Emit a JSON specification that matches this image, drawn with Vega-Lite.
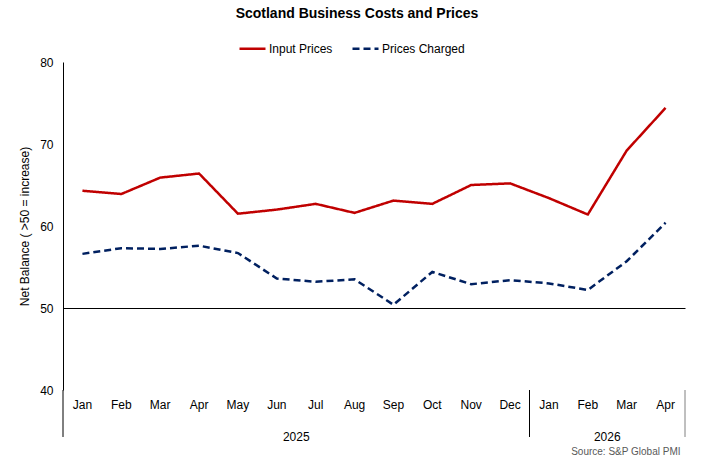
{
  "$schema": "https://vega.github.io/schema/vega-lite/v6.json",
  "width": 622,
  "height": 328,
  "autosize": {"type": "none"},
  "padding": {"left": 63, "top": 62, "right": 28, "bottom": 78},
  "background": "white",
  "config": {
    "font": "Liberation Sans",
    "view": {"stroke": null}
  },
  "title": {
    "text": "Scotland Business Costs and Prices",
    "fontSize": 14,
    "fontWeight": "bold",
    "color": "#000000",
    "anchor": "middle",
    "dx": -17,
    "offset": 13
  },
  "datasets": {
    "series": [
      {"period": "2025-01", "series": "Input Prices", "value": 64.3},
      {"period": "2025-02", "series": "Input Prices", "value": 63.9},
      {"period": "2025-03", "series": "Input Prices", "value": 65.9},
      {"period": "2025-04", "series": "Input Prices", "value": 66.4},
      {"period": "2025-05", "series": "Input Prices", "value": 61.5},
      {"period": "2025-06", "series": "Input Prices", "value": 62.0},
      {"period": "2025-07", "series": "Input Prices", "value": 62.7},
      {"period": "2025-08", "series": "Input Prices", "value": 61.6},
      {"period": "2025-09", "series": "Input Prices", "value": 63.1},
      {"period": "2025-10", "series": "Input Prices", "value": 62.7},
      {"period": "2025-11", "series": "Input Prices", "value": 65.0},
      {"period": "2025-12", "series": "Input Prices", "value": 65.2},
      {"period": "2026-01", "series": "Input Prices", "value": 63.4},
      {"period": "2026-02", "series": "Input Prices", "value": 61.4},
      {"period": "2026-03", "series": "Input Prices", "value": 69.2},
      {"period": "2026-04", "series": "Input Prices", "value": 74.4},
      {"period": "2025-01", "series": "Prices Charged", "value": 56.6},
      {"period": "2025-02", "series": "Prices Charged", "value": 57.3},
      {"period": "2025-03", "series": "Prices Charged", "value": 57.2},
      {"period": "2025-04", "series": "Prices Charged", "value": 57.6},
      {"period": "2025-05", "series": "Prices Charged", "value": 56.7},
      {"period": "2025-06", "series": "Prices Charged", "value": 53.6},
      {"period": "2025-07", "series": "Prices Charged", "value": 53.2},
      {"period": "2025-08", "series": "Prices Charged", "value": 53.5},
      {"period": "2025-09", "series": "Prices Charged", "value": 50.4},
      {"period": "2025-10", "series": "Prices Charged", "value": 54.4},
      {"period": "2025-11", "series": "Prices Charged", "value": 52.9},
      {"period": "2025-12", "series": "Prices Charged", "value": 53.4},
      {"period": "2026-01", "series": "Prices Charged", "value": 53.0},
      {"period": "2026-02", "series": "Prices Charged", "value": 52.2},
      {"period": "2026-03", "series": "Prices Charged", "value": 55.7},
      {"period": "2026-04", "series": "Prices Charged", "value": 60.4}
    ],
    "years": [
      {"period": "2025-06", "year": "2025"},
      {"period": "2026-02", "year": "2026"}
    ],
    "yearStarts": [
      {"period": "2025-01"},
      {"period": "2026-01"}
    ],
    "yearEnd": [
      {"period": "2026-04"}
    ]
  },
  "layer": [
    {
      "data": {"name": "series"},
      "mark": {"type": "line", "strokeWidth": 2.5},
      "encoding": {
        "x": {
          "field": "period",
          "type": "ordinal",
          "bandPosition": 0.5,
          "scale": {"type": "band", "paddingInner": 0, "paddingOuter": 0},
          "axis": {
            "domain": false,
            "grid": false,
            "ticks": false,
            "labelAngle": 0,
            "labelFontSize": 12,
            "labelColor": "#000000",
            "labelExpr": "['Jan','Feb','Mar','Apr','May','Jun','Jul','Aug','Sep','Oct','Nov','Dec'][toNumber(slice(datum.value,5))-1]",
            "labelPadding": 9,
            "title": "Source: S&P Global PMI",
            "titleFontSize": 10,
            "titleFontWeight": "normal",
            "titleColor": "#595959",
            "titleX": 617,
            "titleY": 56,
            "titleAlign": "right",
            "titleBaseline": "top"
          }
        },
        "y": {
          "field": "value",
          "type": "quantitative",
          "scale": {"domain": [40, 80], "nice": false, "zero": false},
          "axis": {
            "values": [40, 50, 60, 70, 80],
            "grid": true,
            "gridColor": "#000000",
            "gridWidth": 1,
            "gridOpacity": {"condition": {"test": "datum.value == 50", "value": 1}, "value": 0},
            "ticks": false,
            "domainColor": "#000000",
            "labelFontSize": 12,
            "labelColor": "#000000",
            "labelPadding": 10,
            "title": "Net Balance ( >50 = increase)",
            "titleFontSize": 12,
            "titleFontWeight": "normal",
            "titleColor": "#000000",
            "titlePadding": 8
          }
        },
        "color": {
          "field": "series",
          "type": "nominal",
          "scale": {"domain": ["Input Prices", "Prices Charged"], "range": ["#C00000", "#002060"]},
          "legend": {
            "orient": "none",
            "direction": "horizontal",
            "legendX": 175,
            "legendY": -28,
            "title": null,
            "symbolType": "stroke",
            "symbolSize": 676,
            "symbolStrokeWidth": 2.5,
            "labelFontSize": 12,
            "labelColor": "#000000",
            "labelOffset": 2,
            "columnPadding": 14
          }
        },
        "strokeDash": {
          "field": "series",
          "type": "nominal",
          "scale": {"domain": ["Input Prices", "Prices Charged"], "range": [[1, 0], [7, 4]]},
          "legend": null
        }
      }
    },
    {
      "data": {"name": "yearStarts"},
      "mark": {"type": "rule", "color": "#000000", "strokeWidth": 1},
      "encoding": {
        "x": {"field": "period", "type": "ordinal", "bandPosition": 0},
        "y": {"datum": 40},
        "y2": {"datum": 34.27}
      }
    },
    {
      "data": {"name": "yearEnd"},
      "mark": {"type": "rule", "color": "#808080", "strokeWidth": 1},
      "encoding": {
        "x": {"field": "period", "type": "ordinal", "bandPosition": 1},
        "y": {"datum": 40},
        "y2": {"datum": 34.27}
      }
    },
    {
      "data": {"name": "years"},
      "mark": {"type": "text", "fontSize": 12, "color": "#000000", "baseline": "middle", "align": "center", "dy": 47},
      "encoding": {
        "x": {"field": "period", "type": "ordinal", "bandPosition": 1},
        "y": {"datum": 40},
        "text": {"field": "year"}
      }
    }
  ]
}
